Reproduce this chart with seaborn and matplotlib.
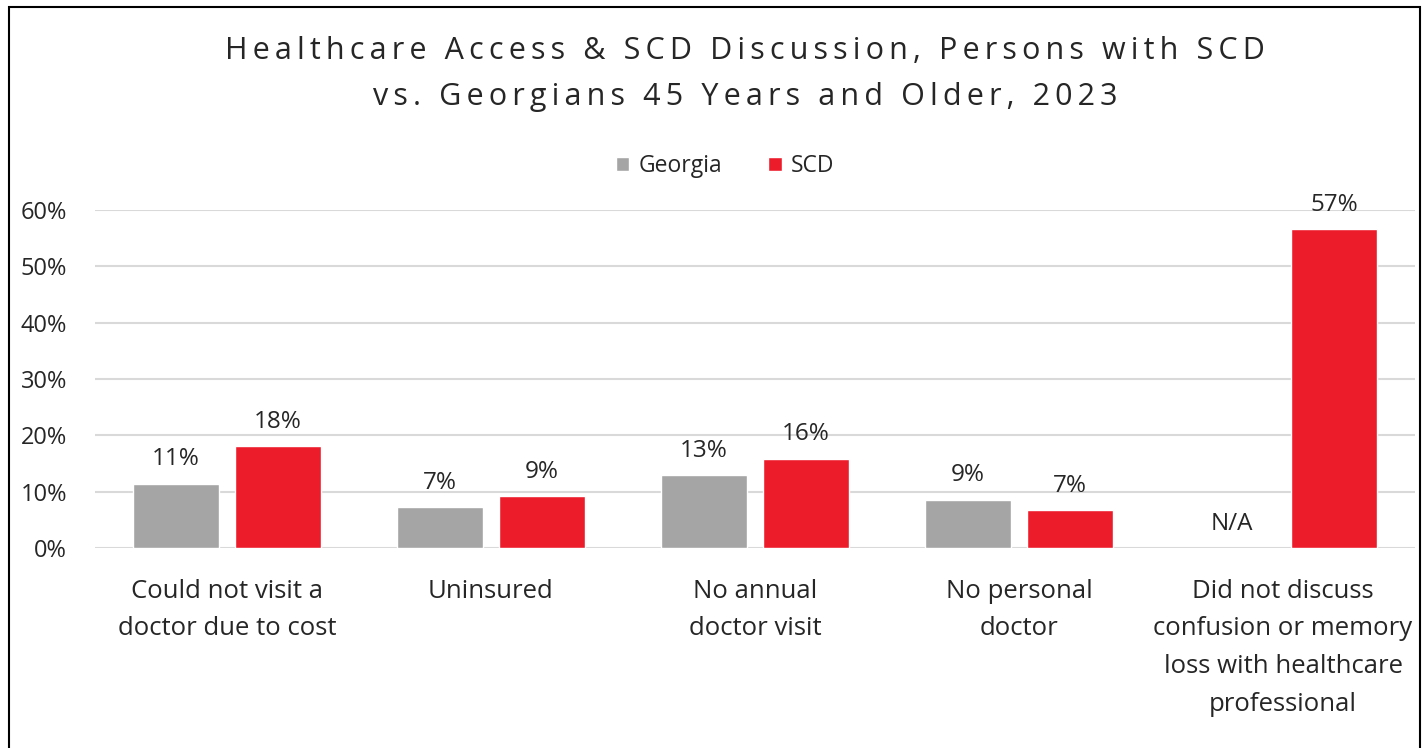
import pandas as pd
import seaborn as sns
import matplotlib.pyplot as plt
from matplotlib.patches import Rectangle
from matplotlib.ticker import PercentFormatter

categories = [
    "Could not visit a\ndoctor due to cost",
    "Uninsured",
    "No annual\ndoctor visit",
    "No personal\ndoctor",
    "Did not discuss\nconfusion or memory\nloss with healthcare\nprofessional",
]
georgia = [11.4, 7.2, 12.9, 8.6, None]
scd = [18.1, 9.2, 15.8, 6.7, 56.6]
groups = ["Georgia", "SCD"]
colors = {"Georgia": "#A5A5A5", "SCD": "#ED1C2B"}
title_lines = ["Healthcare Access & SCD Discussion, Persons with SCD",
               "vs. Georgians 45 Years and Older, 2023"]

sns.set_style("white")
plt.rcParams["font.family"] = ["Open Sans", "DejaVu Sans"]

df = pd.DataFrame({
    "category": categories * 2,
    "group": ["Georgia"] * len(categories) + ["SCD"] * len(categories),
    "value": georgia + scd,
})

fig = plt.figure(figsize=(14.28, 7.48), dpi=100)
ax = fig.add_axes([95 / 1428, 1 - 548 / 748, 1320 / 1428, 338 / 748])

sns.barplot(data=df, x="category", y="value", hue="group", hue_order=groups,
            palette=colors, saturation=1, width=0.773, gap=0.166, ax=ax,
            errorbar=None)

ax.set_ylim(0, 60)
ax.set_yticks(range(0, 61, 10))
ax.yaxis.set_major_formatter(PercentFormatter(decimals=0))
ax.yaxis.grid(True, color="#D9D9D9", linewidth=1.5)
ax.set_axisbelow(True)
for s in ax.spines.values():
    s.set_visible(False)
ax.tick_params(axis="y", length=0, pad=20, labelsize=17)
ax.tick_params(axis="x", length=0, pad=22, labelsize=18.5)
for lbl in ax.get_xticklabels():
    lbl.set_linespacing(1.68)
ax.set_xlabel("")
ax.set_ylabel("")

# value labels
for cont in ax.containers:
    for bar in cont:
        h = bar.get_height()
        if pd.isna(h):
            continue
        ax.annotate(f"{round(h)}%", (bar.get_x() + bar.get_width() / 2, h),
                    xytext=(0, 9), textcoords="offset points",
                    ha="center", va="bottom", fontsize=17.5, clip_on=False)

# N/A for missing Georgia value
g_bars = list(ax.containers[0])
s_bars = list(ax.containers[1])
slot = (s_bars[0].get_x() - g_bars[0].get_x())
for i, v in enumerate(georgia):
    if v is None:
        b = s_bars[i]
        ax.annotate("N/A", (b.get_x() + b.get_width() / 2 - slot, 0),
                    xytext=(0, 9), textcoords="offset points",
                    ha="center", va="bottom", fontsize=17.5)

leg = ax.legend(loc="center", bbox_to_anchor=(725 / 1428, 1 - 166 / 748),
                bbox_transform=fig.transFigure, ncol=2, frameon=False,
                fontsize=16.5, handlelength=0.6, handleheight=0.6,
                columnspacing=2.0, handletextpad=0.4)

# tracked (letter-spaced) title, like the original
title = "\n".join("\u2009".join(line) for line in title_lines)
fig.text(745 / 1428, 1 - 74 / 748, title, ha="center", va="center",
         fontsize=22, linespacing=1.68)

fig.add_artist(Rectangle((9 / 1428, -0.1), 1411 / 1428, 1.1 - 7 / 748,
                         transform=fig.transFigure, fill=False,
                         edgecolor="black", linewidth=1.5))

fig.savefig("out.png", dpi=100)
